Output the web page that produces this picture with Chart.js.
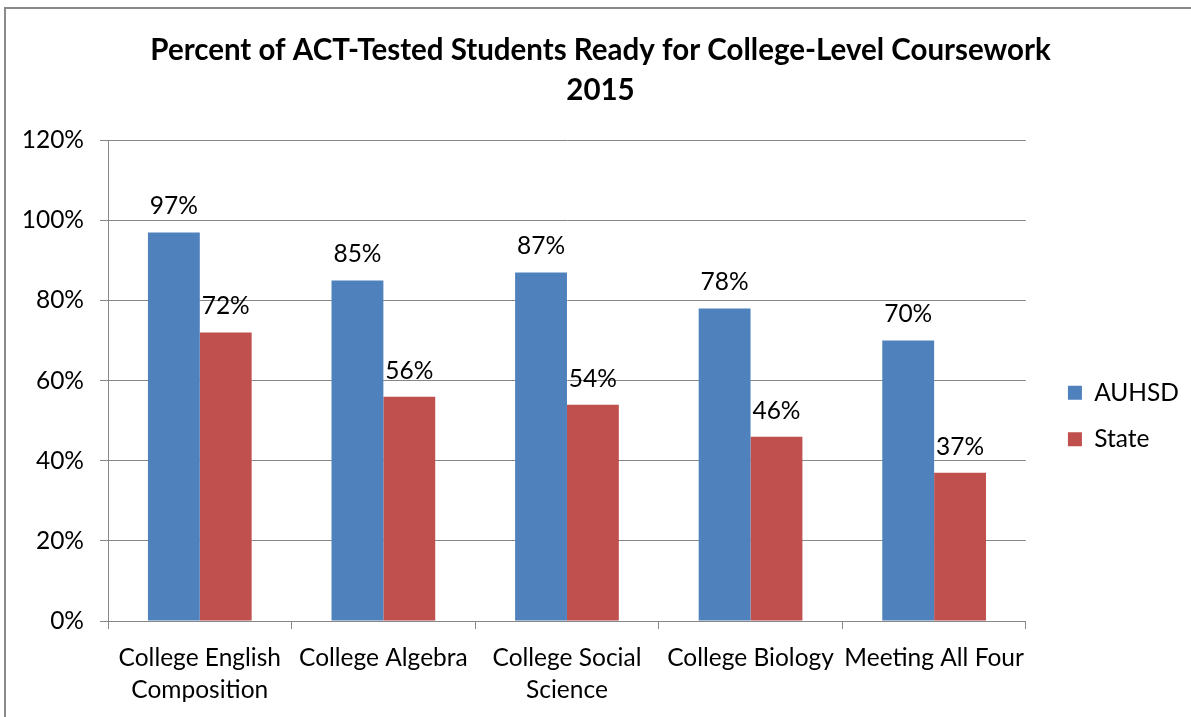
<!DOCTYPE html>
<html>
<head>
<meta charset="utf-8">
<script src="https://cdn.jsdelivr.net/npm/chart.js@4.4.1/dist/chart.umd.min.js"></script>
<style>
body { margin: 0; background: #fff; overflow: hidden; }
canvas { position: absolute; left: 0; top: 0; }
#frame { position: absolute; left: 4px; top: 7px; width: 1400px; height: 900px; border: 2px solid #8a8a8a; pointer-events: none; }
</style>
</head>
<body>
<canvas id="chart" width="1191" height="717"></canvas>
<div id="frame"></div>
<script>
const categories = [['College English', 'Composition'], 'College Algebra', ['College Social', 'Science'], 'College Biology', 'Meeting All Four'];
const auhsdValues = [97, 85, 87, 78, 70];
const stateValues = [72, 56, 54, 46, 37];
const titleLines = ['Percent of ACT-Tested Students Ready for College-Level Coursework', '2015'];

const gridColor = '#878787';
const FONT = 'Lato';
const TEXT_SIZE = 24.5;

// draws "97%" etc above each bar
const valueLabels = {
    id: 'valueLabels',
    afterDatasetsDraw(chart) {
        const ctx = chart.ctx;
        ctx.save();
        ctx.font = TEXT_SIZE + 'px ' + FONT;
        ctx.fillStyle = '#000';
        ctx.textAlign = 'center';
        ctx.textBaseline = 'middle';
        chart.data.datasets.forEach((ds, i) => {
            chart.getDatasetMeta(i).data.forEach((bar, j) => {
                ctx.fillText(ds.data[j] + '%', bar.x, bar.y - 26);
            });
        });
        ctx.restore();
    }
};

// nudge legend + title around a bit so it sits like the excel one
const layoutTweaks = {
    id: 'layoutTweaks',
    afterLayout(chart) {
        const lg = chart.legend;
        lg.left += 20;
        lg.right += 20;
        lg.top = chart.chartArea.top + 71;
        lg.bottom = chart.chartArea.bottom;
        const t = chart.titleBlock;
        t.left += 32;
        t.right += 0;
    }
};

const ctx = document.getElementById('chart').getContext('2d');
new Chart(ctx, {
    type: 'bar',
    data: {
        labels: categories,
        datasets: [{
            label: 'AUHSD',
            data: auhsdValues,
            backgroundColor: '#4F81BD',
            borderWidth: 0
        }, {
            label: 'State',
            data: stateValues,
            backgroundColor: '#C0504D',
            borderWidth: 0
        }]
    },
    options: {
        responsive: false,
        animation: false,
        categoryPercentage: 0.565,
        barPercentage: 1,
        layout: { padding: { left: 0, right: 22, top: 0, bottom: 0 } },
        plugins: {
            title: {
                display: true,
                text: titleLines,
                color: '#000',
                font: { family: FONT, size: 29.5, weight: 'bold', lineHeight: 1.36 },
                padding: { top: 30, bottom: 30 }
            },
            legend: {
                position: 'right',
                labels: {
                    color: '#000',
                    font: { family: FONT, size: TEXT_SIZE },
                    boxWidth: 14,
                    boxHeight: 14,
                    padding: 22
                }
            },
            tooltip: { enabled: false }
        },
        scales: {
            x: {
                grid: { display: true, drawOnChartArea: false, color: gridColor, tickLength: 8 },
                border: { color: gridColor },
                ticks: {
                    color: '#000',
                    font: { family: FONT, size: TEXT_SIZE, lineHeight: 1.27 },
                    maxRotation: 0,
                    autoSkip: false,
                    padding: 14
                },
                afterFit: (scale) => { scale.height = 96; }
            },
            y: {
                min: 0,
                max: 120,
                ticks: {
                    stepSize: 20,
                    color: '#000',
                    font: { family: FONT, size: TEXT_SIZE },
                    padding: 16,
                    callback: (v) => v + '%'
                },
                grid: { color: gridColor, tickLength: 8 },
                border: { color: gridColor },
                afterFit: (scale) => { scale.width = 108; }
            }
        }
    },
    plugins: [valueLabels, layoutTweaks]
});
</script>
</body>
</html>
